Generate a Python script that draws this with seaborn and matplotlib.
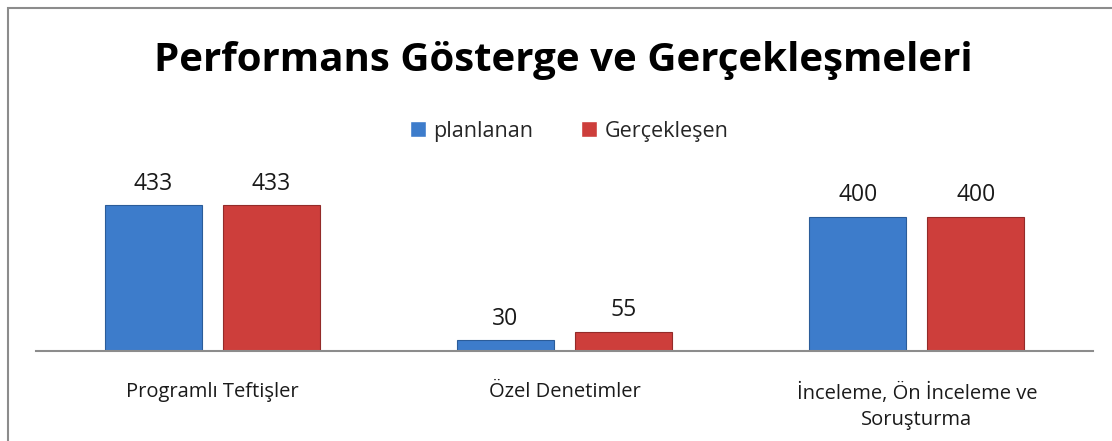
import numpy as np
import pandas as pd
import seaborn as sns
import matplotlib.pyplot as plt
from matplotlib.patches import Rectangle

## data
categories = ['Programlı Teftişler', 'Özel Denetimler', 'İnceleme, Ön İnceleme ve\nSoruşturma']
planlanan = [433, 30, 400]
gerceklesen = [433, 55, 400]
series_names = ['planlanan', 'Gerçekleşen']

data_plot = pd.DataFrame({
    'kategori': categories * 2,
    'deger': planlanan + gerceklesen,
    'seri': [series_names[0]] * 3 + [series_names[1]] * 3,
})

## plot
sns.set_style('white')
plt.rcParams['font.family'] = ['Open Sans', 'DejaVu Sans']

W, H = 1112, 441
fig = plt.figure(figsize=(W / 100, H / 100), dpi=100)
ax = fig.add_axes([36 / W, (H - 350.5) / H, (1093 - 36) / W, 167.5 / H])

palette = {'planlanan': '#3D7CCB', 'Gerçekleşen': '#CD3E3B'}
sns.barplot(data=data_plot, x='kategori', y='deger', hue='seri', palette=palette,
            width=0.67, gap=0.18, saturation=1, ax=ax, legend=True)

edges = ['#2B5C99', '#932B29']
for cont, ec in zip(ax.containers, edges):
    for bar in cont:
        bar.set_edgecolor(ec)
        bar.set_linewidth(0.8)
    ax.bar_label(cont, fmt='%d', padding=7, fontsize=16.5, color='#1a1a1a', clip_on=False)

ax.set_ylim(0, 500)
ax.set_xlim(-0.5, 2.5)
ax.set_xlabel('')
ax.set_ylabel('')
ax.set_yticks([])
ax.tick_params(axis='x', length=0, pad=23, labelsize=14.5, labelcolor='#1a1a1a')
for lbl in ax.get_xticklabels():
    lbl.set_linespacing(1.45)
for s in ['top', 'right', 'left']:
    ax.spines[s].set_visible(False)
ax.spines['bottom'].set_color('#8c8c8c')
ax.spines['bottom'].set_linewidth(1.5)

## legend
handles, labels = ax.get_legend_handles_labels()
ax.legend(handles, labels, loc='center', bbox_to_anchor=(569 / W, 1 - 131 / H),
          bbox_transform=fig.transFigure, ncol=2, frameon=False, fontsize=15.5,
          handlelength=0.75, handleheight=0.75, handletextpad=0.35, columnspacing=2.2)

## title
fig.text(563 / W, 1 - 61 / H, 'Performans Gösterge ve Gerçekleşmeleri', ha='center', va='center',
         fontsize=29, fontweight='bold', color='black')

## border
fig.patches.append(Rectangle((8 / W, -0.1), 1.2, (H - 8) / H + 0.1, transform=fig.transFigure,
                             fill=False, edgecolor='#8c8c8c', linewidth=1.5))

fig.savefig('out.png', dpi=100)
